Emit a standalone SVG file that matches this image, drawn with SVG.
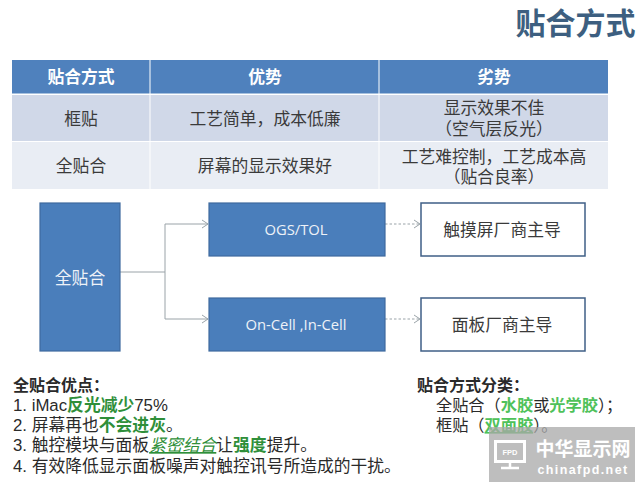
<svg xmlns="http://www.w3.org/2000/svg" width="640" height="487" viewBox="0 0 640 487">
<style>
text{font-family:"Noto Sans CJK SC","Noto Sans",sans-serif;text-anchor:middle;fill:#3a3a3a;font-size:16.8px}
.h{fill:#fff;font-weight:700;font-size:16.8px}
.b{fill:#4a7ebb;stroke:#3f6a9e;stroke-width:1.2}
.w{fill:#fff;stroke:#3f5f86;stroke-width:1.5}
.c{fill:none;stroke:#9aa3a8;stroke-width:1}
.d{fill:none;stroke:#9aa3a8;stroke-width:1;stroke-dasharray:2.5 2}
.e{font-family:"Open Sans",sans-serif;font-size:14.8px;fill:#eef2f8}
.l text{text-anchor:start;font-size:16.8px;fill:#2a2a2a}
.m{font-family:"Liberation Sans","Noto Sans CJK SC",sans-serif}
.g{fill:#2f8f3a}
.lg{fill:#4fc25a}
.q{font-weight:700}
</style>
<defs><marker id="a" markerWidth="8" markerHeight="10" refX="7" refY="5" orient="auto" markerUnits="userSpaceOnUse"><path d="M1 1L7 5L1 9" fill="none" stroke="#9aa3a8"/></marker></defs>
<rect width="640" height="487" fill="#fff"/>
<text x="575.500" y="34" style="font-size:30px;font-weight:700;fill:#3d5f80">贴合方式</text>
<g id="table">
<rect x="12" y="60" width="137.500" height="33.500" fill="#4f81bd"/>
<rect x="150.500" y="60" width="228" height="33.500" fill="#4f81bd"/>
<rect x="379.500" y="60" width="228.500" height="33.500" fill="#4f81bd"/>
<rect x="12" y="95" width="137.500" height="46" fill="#d0d8e8"/>
<rect x="150.500" y="95" width="228" height="46" fill="#d0d8e8"/>
<rect x="379.500" y="95" width="228.500" height="46" fill="#d0d8e8"/>
<rect x="12" y="142" width="137.500" height="47" fill="#e9edf4"/>
<rect x="150.500" y="142" width="228" height="47" fill="#e9edf4"/>
<rect x="379.500" y="142" width="228.500" height="47" fill="#e9edf4"/>
<text x="81" y="83" class="h">贴合方式</text>
<text x="265" y="83" class="h">优势</text>
<text x="494" y="83" class="h">劣势</text>
<text x="81" y="125">框贴</text>
<text x="265" y="125">工艺简单，成本低廉</text>
<text x="494" y="114">显示效果不佳</text>
<text x="494" y="135">（空气层反光）</text>
<text x="81" y="172">全贴合</text>
<text x="265" y="172">屏幕的显示效果好</text>
<text x="494" y="163">工艺难控制，工艺成本高</text>
<text x="494" y="183">（贴合良率）</text>
</g>
<g id="connectors">
<path class="c" d="M120 272H165V224H208" marker-end="url(#a)"/>
<path class="c" d="M165 272V319H208" marker-end="url(#a)"/>
<path class="d" d="M385 224H420" marker-end="url(#a)"/>
<path class="d" d="M385 319H420" marker-end="url(#a)"/>
</g>
<g id="node-quan"><rect x="40" y="203" width="80" height="148" class="b"/><text x="80" y="284" style="fill:#eef2f8">全贴合</text></g>
<g id="node-ogs"><rect x="209" y="203" width="176" height="53" class="b"/><text x="296" y="235" class="e">OGS/TOL</text></g>
<g id="node-oncell"><rect x="209" y="298" width="176" height="53" class="b"/><text x="296" y="330" class="e">On-Cell ,In-Cell</text></g>
<g id="node-touch"><rect x="421" y="203" width="164" height="53" class="w"/><text x="502" y="236">触摸屏厂商主导</text></g>
<g id="node-panel"><rect x="421" y="298" width="164" height="53" class="w"/><text x="502" y="331">面板厂商主导</text></g>
<g id="notes-left" class="l">
<text x="13" y="391" style="font-size:16px" class="q">全贴合优点：</text>
<text x="13" y="411" class="m">1. iMac<tspan class="g q">反光减少</tspan>75%</text>
<text x="13" y="431" class="m">2. 屏幕再也<tspan class="g q">不会进灰</tspan>。</text>
<text x="13" y="451" class="m">3. 触控模块与面板<tspan class="g" text-decoration="underline" font-style="italic">紧密结合</tspan>让<tspan class="g q">强度</tspan>提升。</text>
<text x="13" y="472" class="m">4. 有效降低显示面板噪声对触控讯号所造成的干扰。</text>
</g>
<g id="notes-right" class="l">
<text x="417" y="391" style="font-size:16px" class="q">贴合方式分类：</text>
<text x="436" y="411" style="font-size:16.2px">全贴合（<tspan class="lg q">水胶</tspan>或<tspan class="lg q">光学胶</tspan>）；</text>
<text x="436" y="431" style="font-size:16.2px">框贴（<tspan class="lg q" text-decoration="underline">双面胶</tspan>）。</text>
</g>
<g id="watermark">
<rect x="489" y="427" width="146" height="55" fill="#a8a8a8" fill-opacity=".75"/>
<rect x="495.500" y="441.500" width="29" height="20" fill="none" stroke="#fff" stroke-width="3"/>
<path d="M510 462V467M501 468H519" stroke="#fff" stroke-width="2.500" fill="none"/>
<text x="510" y="455" style="font-family:'Liberation Sans',sans-serif;font-size:7.500px;font-weight:700;fill:#fff">FPD</text>
<text x="583" y="456" style="font-size:19px;font-weight:700;fill:#fff">中华显示网</text>
<text x="583" y="474" style="font-family:'Liberation Sans',sans-serif;font-size:12.500px;font-weight:700;fill:#fff;letter-spacing:1.400px">chinafpd.net</text>
</g>
</svg>
